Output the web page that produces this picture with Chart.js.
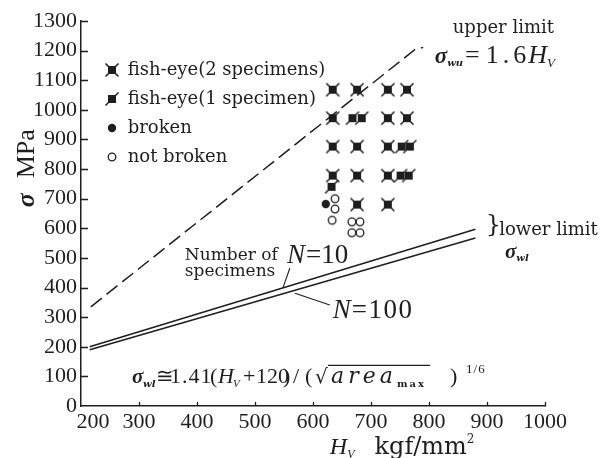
<!DOCTYPE html>
<html><head><meta charset="utf-8">
<script src="https://cdn.jsdelivr.net/npm/chart.js@4.4.1/dist/chart.umd.min.js"></script>
<style>html,body{margin:0;padding:0;background:#fff;overflow:hidden}canvas{display:block}</style>
</head><body>
<canvas id="chart" width="603" height="458"></canvas>
<script>
// ---------- values ----------
const hvTicks = [200, 300, 400, 500, 600, 700, 800, 900, 1000];
const sigmaTicks = [0, 100, 200, 300, 400, 500, 600, 700, 800, 900, 1000, 1100, 1200, 1300];
const legendLabels = ['fish-eye(2 specimens)', 'fish-eye(1 specimen)', 'broken', 'not broken'];

// [Hv, sigma]
const fishEye2 = [[634,1068],[676,1068],[729,1068],[762,1068],
                  [634,972],[729,972],[762,972],
                  [634,876],[676,876],[729,876],
                  [634,778],[676,778],[729,778],
                  [676,680],[729,680]];
const fishEye1 = [[668,972],[684,972],[753,876],[767,876],[751,778],[765,778],[632,740]];
const broken = [[622,682]];
const notBroken = [[638,700],[638,665],[633,627],[667,622],[681,622],[667,585],[681,585]];

const lowerLimitN10 = [[215,200],[880,597]];
const lowerLimitN100 = [[215,190],[880,567]];
const upperLimitLine = [[217,335],[776,1204],[790,1211]];

// ---------- styling ----------
const INK = '#1e1e1e';
const TNR = '"Liberation Serif", serif';
const DJ = '"DejaVu Serif", serif';
const toXY = a => a.map(([x, y]) => ({x, y}));

function marker(kind) {
  const s = 16, c = document.createElement('canvas');
  c.width = c.height = s;
  const g = c.getContext('2d'), m = s / 2;
  g.fillStyle = g.strokeStyle = INK; g.lineWidth = 1.5;
  if (kind === 'fe2') {
    g.fillRect(m - 4, m - 4, 8, 8);
    g.beginPath(); g.moveTo(1.5, 1.5); g.lineTo(s - 1.5, s - 1.5);
    g.moveTo(s - 1.5, 1.5); g.lineTo(1.5, s - 1.5); g.stroke();
  } else if (kind === 'fe1') {
    g.fillRect(m - 4, m - 4, 8, 8);
    g.beginPath(); g.moveTo(1.5, s - 1.5); g.lineTo(s - 1.5, 1.5); g.stroke();
  } else if (kind === 'broken') {
    g.beginPath(); g.arc(m, m, 4.2, 0, Math.PI * 2); g.fill();
  } else {
    g.lineWidth = 1.3; g.beginPath(); g.arc(m, m, 3.8, 0, Math.PI * 2); g.stroke();
  }
  return c;
}
const styles = ['fe2', 'fe1', 'broken', 'nb'].map(marker);

function rich(ctx, x, y, segs) {
  let cx = x;
  for (const s of segs) {
    cx += (s.gap || 0);
    ctx.font = s.f;
    ctx.letterSpacing = (s.ls || 0) + 'px';
    ctx.fillText(s.t, cx, y + (s.dy || 0));
    cx += ctx.measureText(s.t).width;
  }
  ctx.letterSpacing = '0px';
  return cx;
}

const annot = {
  id: 'annot',
  afterDraw(chart) {
    const {ctx, chartArea: ca, scales: {x: xs, y: ys}} = chart;
    const X = v => xs.getPixelForValue(v), Y = v => ys.getPixelForValue(v);
    ctx.save();
    ctx.fillStyle = INK; ctx.strokeStyle = INK;

    // inward ticks
    ctx.lineWidth = 1.3;
    ctx.beginPath();
    sigmaTicks.forEach(v => { if (v === 0) return; const p = Math.round(Y(v)) + 0.5; ctx.moveTo(ca.left, p); ctx.lineTo(ca.left + 7, p); });
    hvTicks.forEach(v => { if (v === 200) return; const p = Math.round(X(v)) + 0.5; ctx.moveTo(p, ca.bottom); ctx.lineTo(p, ca.bottom - 4); });
    ctx.stroke();

    // shifted first x label
    ctx.font = `22px ${TNR}`; ctx.textAlign = 'center'; ctx.textBaseline = 'middle';
    ctx.fillText(String(hvTicks[0]), X(hvTicks[0]) + 12, ca.bottom + 3 + 13.2);

    // legend
    ctx.textAlign = 'left'; ctx.textBaseline = 'middle';
    ctx.font = `18px ${DJ}`;
    const lx = X(253), ly = Y(1133);
    legendLabels.forEach((lab, i) => {
      const yy = ly + i * 29;
      ctx.drawImage(styles[i], Math.round(lx - 8), Math.round(yy - 8));
      ctx.fillText(lab, lx + 16, yy);
    });

    ctx.textBaseline = 'alphabetic';
    // upper limit
    ctx.font = `18px ${DJ}`;
    ctx.fillText('upper limit', X(841), Y(1258));
    rich(ctx, X(810), Y(1157), [
      {t: 'σ', f: `italic bold 23px ${TNR}`},
      {t: 'wu', f: `italic bold 10px ${DJ}`, dy: 3},
      {t: '=', f: `26px ${TNR}`, gap: 2},
      {t: '1.6', f: `26px ${TNR}`, gap: 6, ls: 4},
      {t: 'H', f: `italic 26px ${TNR}`, gap: -2},
      {t: 'V', f: `italic 13px ${TNR}`, dy: 4}
    ]);

    // lower limit
    ctx.font = `24px ${DJ}`; ctx.textBaseline = 'middle';
    ctx.fillText('}', X(898), Y(607));
    ctx.textBaseline = 'alphabetic';
    ctx.font = `18px ${DJ}`;
    ctx.fillText('lower limit', X(921), Y(577));
    rich(ctx, X(931), Y(499), [
      {t: 'σ', f: `italic bold 21px ${TNR}`},
      {t: 'wl', f: `italic bold 10px ${DJ}`, dy: 3}
    ]);

    // number of specimens
    ctx.font = `17px ${DJ}`;
    ctx.fillText('Number of', X(379), Y(492));
    ctx.fillText('specimens', X(379), Y(438));
    rich(ctx, X(555), Y(482), [
      {t: 'N', f: `italic 27px ${TNR}`},
      {t: '=10', f: `27px ${TNR}`, gap: 1}
    ]);
    rich(ctx, X(634), Y(297), [
      {t: 'N', f: `italic 27px ${TNR}`},
      {t: '=100', f: `27px ${TNR}`, gap: 1, ls: 1.5}
    ]);
    ctx.lineWidth = 1.1;
    ctx.beginPath();
    ctx.moveTo(X(560), Y(465)); ctx.lineTo(X(548), Y(398));
    ctx.moveTo(X(629), Y(341)); ctx.lineTo(X(569), Y(381));
    ctx.stroke();

    // formula
    const fx = X(288), fy = Y(78);
    const seg = (t, f, dx, dy, ls) => { ctx.font = f; ctx.letterSpacing = (ls || 0) + 'px'; ctx.fillText(t, fx + dx, fy + (dy || 0)); ctx.letterSpacing = '0px'; };
    seg('σ', `italic bold 21px ${TNR}`, 0);
    seg('wl', `italic bold 10px ${DJ}`, 11, 4);
    seg('≅', `21px ${DJ}`, 24);
    seg('1.41', `22px ${TNR}`, 38, 0, 1);
    seg('(', `22px ${TNR}`, 78);
    seg('H', `italic 22px ${TNR}`, 86);
    seg('V', `italic 11px ${TNR}`, 101, 4);
    seg('+', `22px ${TNR}`, 111);
    seg('120', `22px ${TNR}`, 124);
    seg(')', `22px ${TNR}`, 151);
    seg('/', `22px ${TNR}`, 161);
    seg('(', `22px ${TNR}`, 173);
    seg('√', `20px ${DJ}`, 183);
    seg('area', `italic 22px ${DJ}`, 199, 0, 4);
    seg('max', `bold 10px ${DJ}`, 265, 4, 2);
    seg(')', `22px ${TNR}`, 318);
    seg('1/6', `13px ${TNR}`, 334, -10, 1);
    ctx.lineWidth = 1.1;
    ctx.beginPath(); ctx.moveTo(fx + 196, fy - 17.5); ctx.lineTo(fx + 298, fy - 17.5); ctx.stroke();

    // axis titles
    ctx.save();
    ctx.translate(ca.left - 54, Y(671));
    ctx.rotate(-Math.PI / 2);
    ctx.textBaseline = 'middle';
    rich(ctx, 0, 0, [
      {t: 'σ', f: `italic bold 26px ${TNR}`},
      {t: 'MPa', f: `26px ${TNR}`, gap: 15}
    ]);
    ctx.restore();
    rich(ctx, X(629), ca.bottom + 48, [
      {t: 'H', f: `italic 24px ${TNR}`},
      {t: 'V', f: `italic 12px ${TNR}`, dy: 4},
      {t: 'kgf/mm', f: `24px ${DJ}`, gap: 20},
      {t: '2', f: `12px ${DJ}`, dy: -11}
    ]);
    ctx.restore();
  }
};

const scatterDs = (label, arr, i) => ({
  label, data: toXY(arr), pointStyle: styles[i], pointRadius: 8, pointHoverRadius: 8,
  showLine: false, borderColor: INK, backgroundColor: INK
});
const lineDs = (label, arr, dash) => ({
  type: 'line', label, data: toXY(arr), showLine: true, fill: false,
  borderColor: INK, borderWidth: 1.5, borderDash: dash || [], pointRadius: 0, tension: 0
});

new Chart(document.getElementById('chart'), {
  type: 'scatter',
  data: {
    datasets: [
      lineDs('N=10', lowerLimitN10),
      lineDs('N=100', lowerLimitN100),
      lineDs('upper limit', upperLimitLine, [14, 6]),
      scatterDs(legendLabels[0], fishEye2, 0),
      scatterDs(legendLabels[1], fishEye1, 1),
      scatterDs(legendLabels[2], broken, 2),
      scatterDs(legendLabels[3], notBroken, 3)
    ]
  },
  options: {
    responsive: false, animation: false, devicePixelRatio: 1,
    layout: {padding: {top: 21, right: 58, left: 0, bottom: 0}},
    plugins: {legend: {display: false}, tooltip: {enabled: false}},
    scales: {
      x: {
        type: 'linear', min: 200, max: 1000,
        afterBuildTicks: s => { s.ticks = hvTicks.map(v => ({value: v})); },
        afterFit: s => { s.height = 52; },
        ticks: {font: {family: 'Liberation Serif', size: 22}, color: INK, padding: 3, maxRotation: 0,
          callback: v => v === hvTicks[0] ? '' : String(v)},
        grid: {display: false, drawTicks: false},
        border: {display: true, color: INK, width: 1.5}
      },
      y: {
        type: 'linear', min: 0, max: 1300,
        afterBuildTicks: s => { s.ticks = sigmaTicks.map(v => ({value: v})); },
        afterFit: s => { s.width = 81; },
        ticks: {font: {family: 'Liberation Serif', size: 22}, color: INK, padding: 4,
          callback: v => String(v)},
        grid: {display: false, drawTicks: false},
        border: {display: true, color: INK, width: 1.5}
      }
    }
  },
  plugins: [annot]
});
</script>
</body></html>
